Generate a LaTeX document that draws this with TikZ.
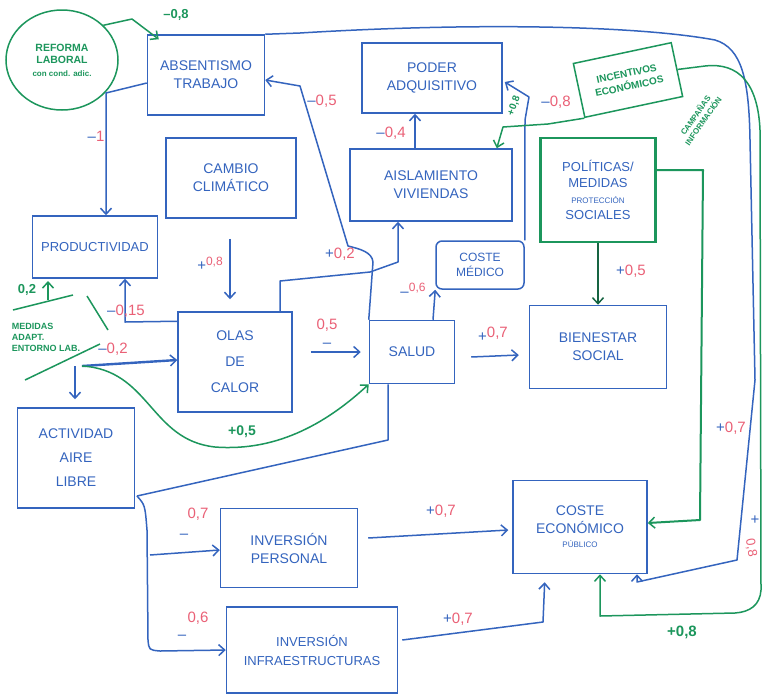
\documentclass[tikz,border=0pt]{standalone}
\usepackage{fontspec}
\setmainfont{Liberation Sans}
\usetikzlibrary{arrows.meta,shapes.geometric,calc}
\definecolor{inkblue}{RGB}{52,100,190}
\definecolor{inkred}{RGB}{234,96,118}
\definecolor{inkgreen}{RGB}{28,150,92}
\definecolor{inkdkgreen}{RGB}{22,100,66}
% sign in blue, weight in red
\newcommand\wgt[2]{{\color{inkblue}#1}{\color{inkred}#2}}

\begin{document}
\begin{tikzpicture}[x=1pt,y=-1pt,
  box/.style={draw=inkblue, line width=1.5pt, text=inkblue, align=center,
    inner sep=2pt, font=\fontsize{14}{18}\selectfont},
  gbox/.style={box, draw=inkgreen, text=inkgreen, font=\bfseries\fontsize{10}{13}\selectfont},
  link/.style={draw=inkblue, line width=1.5pt, line join=round,
    -{Straight Barb[length=6pt,width=11pt,line width=1.5pt]}},
  glink/.style={link, draw=inkgreen},
  dglink/.style={link, draw=inkdkgreen, line width=2pt},
  stroke/.style={draw=inkblue, line width=1.5pt, line join=round},
  wlabel/.style={font=\fontsize{15}{16}\selectfont, inner sep=1pt},
  glabel/.style={wlabel, text=inkgreen, font=\bfseries\fontsize{13}{14}\selectfont},
]
\useasboundingbox[fill=white] (0,0) rectangle (762,697);

% ---------- factors ----------
\node[box, minimum width=117pt, minimum height=80pt] (absent) at (206,75) {ABSENTISMO\\TRABAJO};
\node[box, minimum width=140pt, minimum height=70pt] (poder) at (432,78) {PODER\\ADQUISITIVO};
\node[box, minimum width=130pt, minimum height=80pt] (cambio) at (231,178) {CAMBIO\\CLIMÁTICO};
\node[box, minimum width=162pt, minimum height=72pt] (aisla) at (431,185) {AISLAMIENTO\\VIVIENDAS};
\node[box, draw=inkgreen, line width=2.2pt, minimum width=115pt, minimum height=104pt, font=\fontsize{13}{16}\selectfont]
  (polit) at (598,190) {POLÍTICAS/\\MEDIDAS\\{\fontsize{8}{9}\selectfont PROTECCIÓN}\\SOCIALES};
\node[box, minimum width=125pt, minimum height=62pt, font=\fontsize{13}{15}\selectfont] (produc) at (95,247) {PRODUCTIVIDAD};
\node[box, rounded corners=6pt, minimum width=88pt, minimum height=48pt, font=\fontsize{12}{15}\selectfont] (cmedico) at (480,265) {COSTE\\MÉDICO};
\node[box, minimum width=114pt, minimum height=100pt, font=\fontsize{14}{26}\selectfont] (olas) at (235,362) {OLAS\\DE\\CALOR};
\node[box, minimum width=85pt, minimum height=63pt] (salud) at (412,352) {SALUD};
\node[box, minimum width=137pt, minimum height=83pt] (bien) at (598,347) {BIENESTAR\\SOCIAL};
\node[box, minimum width=117pt, minimum height=100pt, font=\fontsize{14}{24}\selectfont] (activ) at (76,458) {ACTIVIDAD\\AIRE\\LIBRE};
\node[box, minimum width=137pt, minimum height=79pt] (invp) at (289,548) {INVERSIÓN\\PERSONAL};
\node[box, minimum width=171pt, minimum height=86pt, font=\fontsize{13}{19}\selectfont] (invi) at (312,650) {INVERSIÓN\\INFRAESTRUCTURAS};
\node[box, minimum width=134pt, minimum height=93pt] (cecon) at (580,527)
  {COSTE\\ECONÓMICO\\[-4pt]{\fontsize{8}{9}\selectfont PÚBLICO}};

% ---------- green policy notes ----------
\node[draw=inkgreen, ellipse, line width=1.5pt, text=inkgreen, minimum width=112pt, minimum height=100pt,
  align=center, font=\bfseries\fontsize{10.5}{12.5}\selectfont] (reforma) at (62,60)
  {REFORMA\\LABORAL\\{\fontsize{8}{9}\selectfont con cond. adic.}};
\node[gbox, rotate=12, minimum width=100pt, minimum height=55pt] (incent) at (628,80) {INCENTIVOS\\ECONÓMICOS};
\node[text=inkgreen, font=\bfseries\fontsize{8}{9.5}\selectfont, rotate=55, align=center] (campana) at (699,118)
  {CAMPAÑAS\\INFORMACIÓN};
\node[text=inkgreen, font=\bfseries\fontsize{9}{11}\selectfont, align=left, inner sep=1pt] (medidas) at (46,337)
  {MEDIDAS\\ADAPT.\\ENTORNO LAB.};
\draw[inkgreen, line width=1.5pt] (13,310) -- (73,295);
\draw[inkgreen, line width=1.5pt] (87,296) -- (108,330);
\draw[inkgreen, line width=1.5pt] (25,380) -- (100,344);
\node[glabel] (medw) at (27,290) {0,2};
\coordinate (medtip) at (48,281);
\coordinate (medbase) at (48,300);
\draw[glink] (medbase) -- (medtip);

% ---------- junction points ----------
\coordinate (mfork) at (82,366);
\coordinate (split) at (137,496);
\coordinate (branch) at (150,555);

% ---------- connectors ----------
% reforma laboral -> absentismo
\draw[glink] (reforma.40) -- (132,19) -- ($(absent.north west)+(12,5)$);
\node[glabel] at (176,15) {–0,8};

% absentismo -> productividad
\draw[link] ($(absent.west)+(0,8)$) -- (106,93) -- (produc.north -| 106,0);
\node[wlabel] at (96,136) {\wgt{–}{1}};

% absentismo -> coste economico (outer loop)
\draw[link] (absent.north east) -- (300,33) .. controls (480,22) and (640,26) .. (715,40)
  .. controls (742,48) and (749,80) .. (750,140) -- (755,380) -- (737,560) -- (637,582)
  -- (cecon.south -| 637,0);
\node[wlabel] at (731,428) {\wgt{+}{0,7}};

% incentivos -> coste economico (outer green loop)
\draw[glink] (incent.east) -- (705,66) .. controls (740,62) and (758,85) .. (760,130)
  -- (761,590) .. controls (760,605) and (750,612) .. (735,613) -- (600,616)
  -- (cecon.south -| 600,0);
\node[glabel, font=\bfseries\fontsize{15}{16}\selectfont] at (682,632) {+0,8};
\node[wlabel] at (755,520) {\wgt{+}{}};
\node[wlabel, rotate=-80, font=\fontsize{13}{14}\selectfont] at (751,548) {\wgt{}{0,8}};

% salud -> absentismo
\draw[link] (salud.north west) -- (373,262) .. controls (372,252) and (360,249) .. (348,246)
  -- (300,86) -- ($(absent.east)+(0,5)$);
\node[wlabel] at (322,101) {\wgt{–}{0,5}};

% olas de calor -> aislamiento viviendas
\draw[link] (olas.north -| 280,0) -- (280,281) -- (370,272) -- (398,262) -- (aisla.south -| 398,0);
\node[wlabel] at (340,254) {\wgt{+}{0,2}};

% aislamiento -> poder adquisitivo
\draw[link] (aisla.north -| 415,0) -- (poder.south -| 415,0);
\node[wlabel] at (391,133) {\wgt{–}{0,4}};

% coste medico -> poder adquisitivo
\draw[link] (cmedico.north east) -- (525,120) -- (529,97) -- ($(poder.east)+(2,4)$);
\node[wlabel] at (556,102) {\wgt{–}{0,8}};

% incentivos -> aislamiento
\draw[glink] (incent.south west) -- (548,124) -- (503,127) -- ($(aisla.north east)+(-16,0)$);
\node[glabel, rotate=70, font=\bfseries\fontsize{10}{11}\selectfont] at (514,106) {+0,8};

% politicas -> bienestar / coste economico
\draw[dglink] (polit.south) -- (bien.north);
\node[wlabel] at (631,271) {\wgt{+}{0,5}};
\draw[glink, line width=2pt] ($(polit.east)+(0,-20)$) -- (703,170) -- (700,520) -- ($(cecon.east)+(0,-4)$);

% cambio climatico -> olas de calor
\draw[link, line width=2pt] ($(cambio.south)+(-1,20)$) -- ($(olas.north)+(-5,-12)$);
\node[wlabel] at (210,264) {\wgt{+}{\raisebox{5pt}{\fontsize{12}{13}\selectfont 0,8}}};

% olas de calor -> salud
\draw[link] ($(olas.east)+(18,-10)$) -- ($(salud.west)+(-8,0)$);
\node[wlabel, align=center] at (327,333) {{\color{inkred}0,5}\\[2pt]{\color{inkblue}–}};

% salud -> coste medico
\draw[link] (salud.north -| 433,0) -- (cmedico.south west);
\node[wlabel] at (413,290) {\wgt{–}{\raisebox{5pt}{\fontsize{12}{13}\selectfont 0,6}}};

% salud -> bienestar social
\draw[link] ($(salud.east)+(16,5)$) -- ($(bien.west)+(-10,8)$);
\node[wlabel] at (493,334) {\wgt{+}{\raisebox{4pt}{0,7}}};

% olas de calor -> productividad
\draw[link] ($(olas.north west)+(0,10)$) -- (125,322) -- (produc.south -| 125,0);
\node[wlabel] at (126,311) {\wgt{–}{0,15}};

% medidas de adaptacion -> olas, actividad, salud
\draw[link, line width=2.4pt] (mfork) -- ($(olas.west)+(0,-2)$);
\node[wlabel] at (113,349) {\wgt{–}{0,2}};
\draw[link] (mfork -| 75,0) -- (activ.north -| 75,0) [shorten >=8pt];
\draw[glink] (mfork) .. controls (150,370) and (150,440) .. (215,447)
  .. controls (280,452) and (330,420) .. (salud.south west);
\node[glabel, font=\bfseries\fontsize{14}{15}\selectfont] at (242,432) {+0,5};

% salud -> inversiones (routed past actividad aire libre)
\draw[stroke] (salud.south -| 388,0) -- (388,440) -- (split);
\draw[link] (split) .. controls (145,505) .. (147,530) -- (148,640) .. controls (149,650) .. (160,651) -- (invi.west);
\draw[link] (branch) -- ($(invp.west)+(0,2)$);
\node[wlabel] at (184,536) {\wgt{–}{}};
\node[wlabel] at (198,514) {\wgt{}{0,7}};
\node[wlabel] at (182,637) {\wgt{–}{}};
\node[wlabel] at (198,618) {\wgt{}{0,6}};

% inversiones -> coste economico
\draw[link] ($(invp.east)+(10,-10)$) -- ($(cecon.west)+(-4,3)$);
\node[wlabel] at (441,511) {\wgt{+}{0,7}};
\draw[link] ($(invi.east)+(4,-10)$) -- (543,622) -- (cecon.south -| 545,0) [shorten >=8pt];
\node[wlabel] at (458,619) {\wgt{+}{0,7}};
\end{tikzpicture}
\end{document}
